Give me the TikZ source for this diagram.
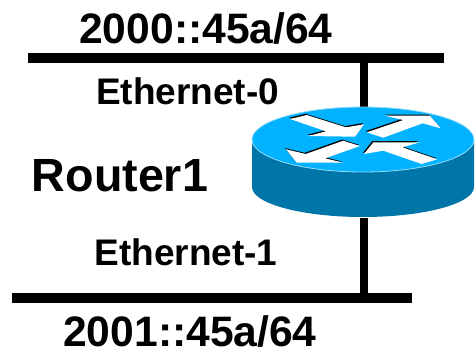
\documentclass[tikz,border=0pt]{standalone}
\usepackage{xcolor}
\usepackage{fontspec}
\setmainfont{Liberation Sans}
\usepackage{tikz}
\definecolor{routertop}{RGB}{0,178,255}
\definecolor{routerside}{RGB}{0,117,168}
\definecolor{routeredge}{RGB}{150,220,250}
\newcommand{\routerarrow}[1]{
	\fill[black,shift={(-1,-1.2)}] #1 -- cycle;
	\fill[white] #1 -- cycle;
}
\begin{document}
\begin{tikzpicture}[x=1pt,y=-1pt,
	bus/.style={line width=10pt},
	link/.style={line width=8pt},
	ethtext/.style={font=\bfseries\fontsize{37}{40}\selectfont, inner sep=0pt, anchor=base},
	subnet/.style={font=\bfseries\fontsize{42.6}{46}\selectfont, inner sep=0pt, anchor=base},
	routertext/.style={font=\bfseries\fontsize{46.6}{50}\selectfont, inner sep=0pt, anchor=base}]
	\useasboundingbox (0,0) rectangle (475,349);
	\coordinate (bus0w) at (28,58);
	\coordinate (bus0e) at (444,58);
	\coordinate (bus1w) at (12,298);
	\coordinate (bus1e) at (412,298);
	\coordinate (tap0) at (364,58);
	\coordinate (tap1) at (364,298);
	\coordinate (router) at (364,160);
	\draw[bus] (bus0w) -- (bus0e);
	\draw[bus] (bus1w) -- (bus1e);
	\draw[link] (tap0) -- (router);
	\draw[link] (router) -- (tap1);
	\fill[white] (251,187) arc[start angle=180, end angle=0, x radius=112, y radius=31] -- cycle;
	\fill[routerside] (252,139.5) -- (252,187) arc[start angle=180, end angle=0, x radius=111, y radius=30] -- (474,139.5) -- cycle;
	\fill[routertop, draw=routeredge, line width=0.8pt] (363,139.5) ellipse[x radius=111, y radius=32.5];
	\routerarrow{(290,119) -- (306.7,115) -- (346,127.3) -- (364,124.3) -- (355,136.7) -- (308.3,136) -- (326,131.3)}
	\routerarrow{(366.7,132.3) -- (403.3,120) -- (385,115.7) -- (430,115.7) -- (440.7,128.3) -- (422.7,123.3) -- (383.3,137.7)}
	\routerarrow{(360,146) -- (325,158.3) -- (343.3,162.7) -- (296.7,162.7) -- (286,149.3) -- (305.7,154) -- (343.3,140.7)}
	\routerarrow{(364,154) -- (373.3,142.3) -- (420,142.3) -- (402.3,147.3) -- (437.3,159.3) -- (421.7,164) -- (383.3,150.7)}
	\node[subnet] (net0) at (206,43) {2000::45a/64};
	\node[subnet] (net1) at (190,346) {2001::45a/64};
	\node[ethtext] (eth0) at (187.5,104) {Ethernet-0};
	\node[ethtext] (eth1) at (186,265) {Ethernet-1};
	\node[routertext] (name1) at (120,191) {Router1};
\end{tikzpicture}
\end{document}
